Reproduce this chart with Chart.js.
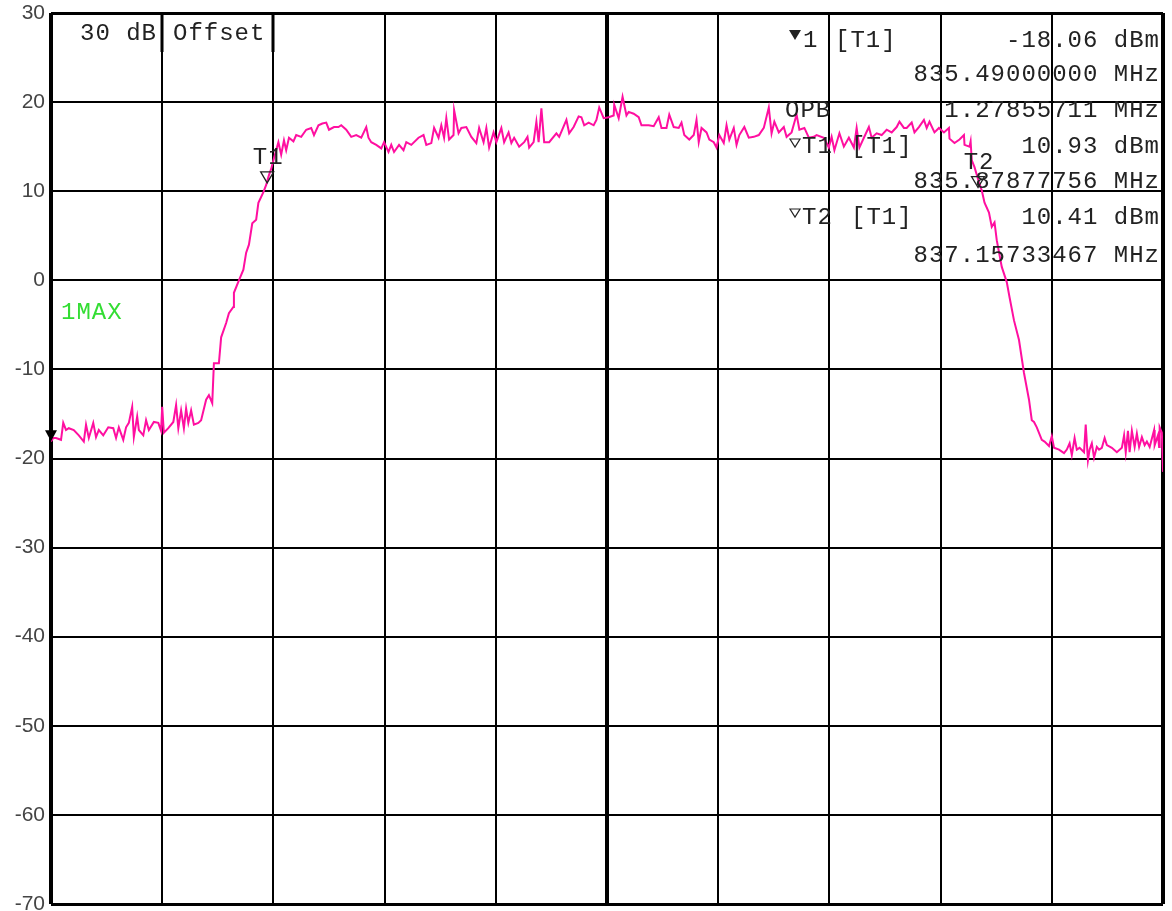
<!DOCTYPE html>
<html>
<head>
<meta charset="utf-8">
<script src="https://cdn.jsdelivr.net/npm/chart.js@4.4.1/dist/chart.umd.min.js"></script>
<style>
  html, body { margin: 0; padding: 0; background: #fff; }
  #wrap { width: 1172px; height: 911px; position: relative; }
</style>
</head>
<body>
<div id="wrap"><canvas id="spec"></canvas></div>
<script>
// Trace 1 (max hold), frequency offset from start (kHz) and level (dBm)
const startMHz = 835.49;
const spanKHz = 2000;

const offsetKHz = [
  0, 4, 9, 18, 22, 27, 32, 41, 50, 59,
  63, 68, 76, 81, 86, 94, 103, 112, 117, 122,
  130, 135, 140, 146, 149, 155, 158, 166, 171, 176,
  185, 193, 198, 200, 203, 211, 220, 225, 229, 234,
  239, 243, 247, 252, 257, 265, 270, 279, 284, 290,
  293, 302, 306, 315, 320, 328, 329, 338, 346, 351,
  356, 362, 369, 373, 382, 387, 392, 396, 401, 409,
  414, 419, 423, 428, 436, 441, 450, 459, 468, 473,
  481, 488, 495, 500, 509, 517, 522, 531, 540, 549,
  558, 567, 571, 576, 585, 594, 599, 607, 612, 617,
  626, 634, 639, 648, 661, 670, 675, 684, 689, 697,
  702, 707, 711, 716, 724, 725, 733, 738, 747, 756,
  765, 770, 778, 783, 788, 796, 801, 810, 815, 823,
  828, 833, 842, 851, 857, 860, 868, 873, 877, 882,
  887, 896, 909, 914, 927, 932, 940, 949, 954, 959,
  967, 976, 981, 986, 994, 1003, 1012, 1013, 1021, 1028,
  1035, 1039, 1048, 1057, 1062, 1075, 1084, 1093, 1098, 1107,
  1112, 1120, 1129, 1134, 1139, 1148, 1156, 1161, 1165, 1170,
  1179, 1184, 1192, 1197, 1202, 1210, 1215, 1220, 1228, 1233,
  1238, 1247, 1255, 1264, 1273, 1282, 1291, 1296, 1301, 1309,
  1318, 1323, 1332, 1341, 1346, 1355, 1363, 1372, 1377, 1390,
  1399, 1404, 1409, 1418, 1426, 1435, 1444, 1449, 1454, 1462,
  1471, 1476, 1485, 1494, 1503, 1512, 1521, 1526, 1534, 1539,
  1548, 1553, 1561, 1570, 1575, 1580, 1589, 1597, 1606, 1615,
  1616, 1625, 1634, 1642, 1643, 1652, 1654, 1656, 1661, 1669,
  1674, 1679, 1687, 1692, 1697, 1701, 1710, 1719, 1724, 1732,
  1741, 1750, 1759, 1764, 1768, 1773, 1782, 1787, 1795, 1800,
  1804, 1813, 1822, 1827, 1832, 1836, 1841, 1845, 1850, 1858,
  1861, 1865, 1868, 1872, 1876, 1881, 1885, 1890, 1895, 1899,
  1908, 1917, 1926, 1930, 1933, 1937, 1940, 1944, 1949, 1953,
  1957, 1962, 1967, 1971, 1976, 1984, 1985, 1991, 1993, 1994,
  1998, 2000
];

const levelDbm = [
  -18.1, -17.7, -17.7, -17.9, -16.0, -16.8, -16.6, -16.8, -17.4, -18.1,
  -16.2, -17.7, -16.0, -17.6, -16.8, -17.4, -16.5, -16.6, -17.7, -16.5,
  -17.9, -16.5, -16.0, -14.2, -17.6, -15.3, -16.8, -17.4, -15.7, -16.8,
  -15.9, -16.0, -16.9, -14.2, -17.1, -16.6, -15.9, -14.0, -16.6, -14.6,
  -16.6, -14.4, -16.0, -14.6, -16.2, -16.0, -15.7, -13.4, -12.9, -13.8,
  -9.3, -9.3, -6.4, -4.8, -3.7, -3.0, -1.4, 0.0, 1.2, 3.1,
  4.0, 6.4, 6.8, 8.7, 9.9, 10.7, 11.8, 12.5, 13.7, 15.5,
  14.1, 15.7, 14.6, 16.0, 15.6, 16.3, 16.1, 16.9, 17.1, 16.3,
  17.4, 17.6, 17.7, 16.9, 17.2, 17.2, 17.4, 16.9, 16.1, 16.3,
  16.0, 17.2, 16.0, 15.5, 15.2, 14.8, 15.5, 14.4, 15.2, 14.4,
  15.2, 14.6, 15.5, 15.2, 16.0, 16.3, 15.2, 15.4, 17.1, 16.0,
  17.4, 16.0, 18.2, 15.8, 16.3, 19.1, 16.5, 17.1, 17.2, 16.1,
  15.4, 17.1, 15.5, 17.1, 14.9, 16.6, 15.5, 17.1, 15.5, 16.6,
  15.4, 16.0, 15.0, 15.5, 16.1, 14.9, 15.5, 17.8, 15.5, 19.3,
  15.5, 15.5, 16.5, 16.1, 18.0, 16.5, 17.2, 18.4, 18.3, 17.4,
  17.7, 17.4, 18.0, 19.4, 18.2, 18.3, 18.5, 19.7, 18.2, 20.6,
  18.5, 18.9, 18.7, 18.3, 17.4, 17.4, 17.3, 18.3, 17.1, 17.1,
  18.6, 17.2, 17.1, 17.7, 16.3, 15.8, 16.3, 18.0, 15.5, 17.1,
  16.6, 15.8, 15.5, 14.9, 16.3, 15.4, 17.4, 15.8, 17.1, 15.2,
  16.3, 17.2, 16.0, 16.1, 16.3, 17.1, 19.4, 16.5, 17.8, 16.6,
  17.2, 16.1, 16.6, 18.6, 16.9, 17.1, 16.0, 16.1, 16.3, 16.0,
  14.9, 16.1, 14.6, 16.5, 15.0, 16.0, 14.9, 17.1, 14.9, 16.0,
  17.2, 16.0, 16.5, 16.3, 16.9, 16.6, 17.2, 17.8, 17.1, 17.1,
  17.7, 16.6, 17.2, 18.0, 17.1, 17.8, 16.6, 17.1, 16.6, 17.1,
  15.9, 15.4, 15.8, 16.3, 15.2, 15.0, 15.6, 13.5, 12.7, 11.0,
  10.1, 8.7, 7.6, 6.0, 6.5, 4.5, 1.5, -0.2, -1.9, -4.5,
  -6.7, -10.4, -13.4, -15.7, -15.9, -16.5, -17.9, -18.1, -18.6, -17.5,
  -18.8, -19.0, -19.4, -19.0, -18.3, -19.6, -17.7, -19.0, -18.8, -19.3,
  -16.2, -20.2, -19.0, -18.3, -19.9, -18.7, -19.0, -18.8, -17.7, -18.5,
  -18.8, -19.3, -18.8, -17.4, -19.3, -16.9, -19.3, -16.9, -18.7, -17.2,
  -18.7, -17.6, -18.5, -18.1, -18.7, -16.8, -18.5, -17.4, -18.7, -16.5,
  -17.1, -21.5
];

// markers: name, offset (kHz), level (dBm)
const markerNames = ['1', 'T1', 'T2'];
const markerKHz = [0, 388.78, 1667.33];
const markerDbm = [-18.06, 10.93, 10.41];

// marker readout lines (top right)
const readoutRows = [
  ['', '[T1]', '-18.06 dBm'],
  ['', '', '835.49000000 MHz'],
  ['OPB', '', '1.27855711 MHz'],
  ['T1', '[T1]', '10.93 dBm'],
  ['', '', '835.87877756 MHz'],
  ['T2', '[T1]', '10.41 dBm'],
  ['', '', '837.15733467 MHz']
];

const yTicks = { min: -70, max: 30, step: 10 };

if (offsetKHz.length !== levelDbm.length) console.error('length mismatch', offsetKHz.length, levelDbm.length);

const traceColor = '#ff0fa0';
const textFont = '24px "Liberation Mono", "DejaVu Sans Mono", monospace';

function tri(ctx, cx, tipY, w, h, filled) {
  ctx.beginPath();
  ctx.moveTo(cx - w / 2, tipY - h);
  ctx.lineTo(cx + w / 2, tipY - h);
  ctx.lineTo(cx, tipY);
  ctx.closePath();
  if (filled) { ctx.fill(); } else { ctx.stroke(); }
}

const overlay = {
  id: 'overlay',
  afterDraw(chart) {
    const ctx = chart.ctx;
    const xs = chart.scales.x, ys = chart.scales.y;
    const area = chart.chartArea;
    ctx.save();

    // thicker dividers of the top left label box
    ctx.fillStyle = '#000';
    [xs.getPixelForValue(200), xs.getPixelForValue(400)].forEach(px => {
      ctx.fillRect(Math.round(px) - 1.5, area.top, 3, 39);
    });

    ctx.font = textFont;
    ctx.letterSpacing = '1px';
    ctx.textBaseline = 'middle';
    ctx.fillStyle = '#222';

    // top left
    ctx.textAlign = 'right';
    ctx.fillText('30 dB', 157, 34);
    ctx.textAlign = 'left';
    ctx.fillText('Offset', 173, 34);

    // readout table
    const rowY = [41, 75, 111, 147, 182, 218, 256];
    readoutRows.forEach((r, i) => {
      const y = rowY[i];
      ctx.textAlign = 'left';
      if (r[0]) ctx.fillText(r[0], i === 2 ? 785 : 802, y);
      if (r[1]) ctx.fillText(r[1], i === 0 ? 835 : 851, y);
      ctx.textAlign = 'right';
      ctx.fillText(r[2], 1160, y);
    });
    ctx.textAlign = 'left';
    ctx.fillText('1', 803, 41);
    ctx.strokeStyle = '#222';
    ctx.lineWidth = 1.2;
    tri(ctx, 795, 40, 12, 10, true);
    tri(ctx, 795, 147, 10, 8, false);
    tri(ctx, 795, 217, 10, 8, false);

    // trace label
    ctx.fillStyle = '#33dd33';
    ctx.fillText('1MAX', 61, 313);

    // markers on the trace
    ctx.fillStyle = '#222';
    markerNames.forEach((n, i) => {
      const px = xs.getPixelForValue(markerKHz[i]);
      const py = ys.getPixelForValue(markerDbm[i]);
      if (n === '1') {
        ctx.fillStyle = '#000';
        tri(ctx, px, py, 12, 11, true);
        ctx.fillStyle = '#222';
      } else {
        ctx.strokeStyle = '#222';
        ctx.lineWidth = 1.3;
        tri(ctx, px, py, 13, 11, false);
        ctx.textAlign = 'center';
        ctx.fillText(n, px + 1, py - 25);
      }
    });
    ctx.restore();
  }
};

const bigLine = v => (v === 0 || v === 1000 || v === 2000) ? 4 : 2;

new Chart(document.getElementById('spec'), {
  type: 'line',
  data: {
    datasets: [{
      label: '1MAX',
      data: offsetKHz.map((k, i) => ({ x: k, y: levelDbm[i] })),
      borderColor: traceColor,
      borderWidth: 2,
      pointRadius: 0,
      tension: 0,
      fill: false
    }]
  },
  options: {
    responsive: true,
    maintainAspectRatio: false,
    animation: false,
    events: [],
    layout: { padding: { top: 13, right: 9, bottom: 7, left: 1 } },
    plugins: { legend: { display: false }, tooltip: { enabled: false } },
    scales: {
      x: {
        type: 'linear',
        min: 0,
        max: spanKHz,
        ticks: { display: false, stepSize: 200 },
        grid: { color: '#000', lineWidth: c => bigLine(c.tick.value), drawTicks: false },
        border: { display: false }
      },
      y: {
        min: yTicks.min,
        max: yTicks.max,
        ticks: {
          stepSize: yTicks.step,
          padding: 6,
          color: '#444',
          font: { family: '"Liberation Sans", Arial, sans-serif', size: 21 },
          callback: v => String(v)
        },
        grid: {
          color: '#000',
          lineWidth: c => (c.tick.value === 30 || c.tick.value === -70) ? 3 : 2,
          drawTicks: false
        },
        border: { display: false },
        afterFit: s => { s.width = 50; s.paddingTop = 0; s.paddingBottom = 0; }
      }
    }
  },
  plugins: [overlay]
});
</script>
</body>
</html>
